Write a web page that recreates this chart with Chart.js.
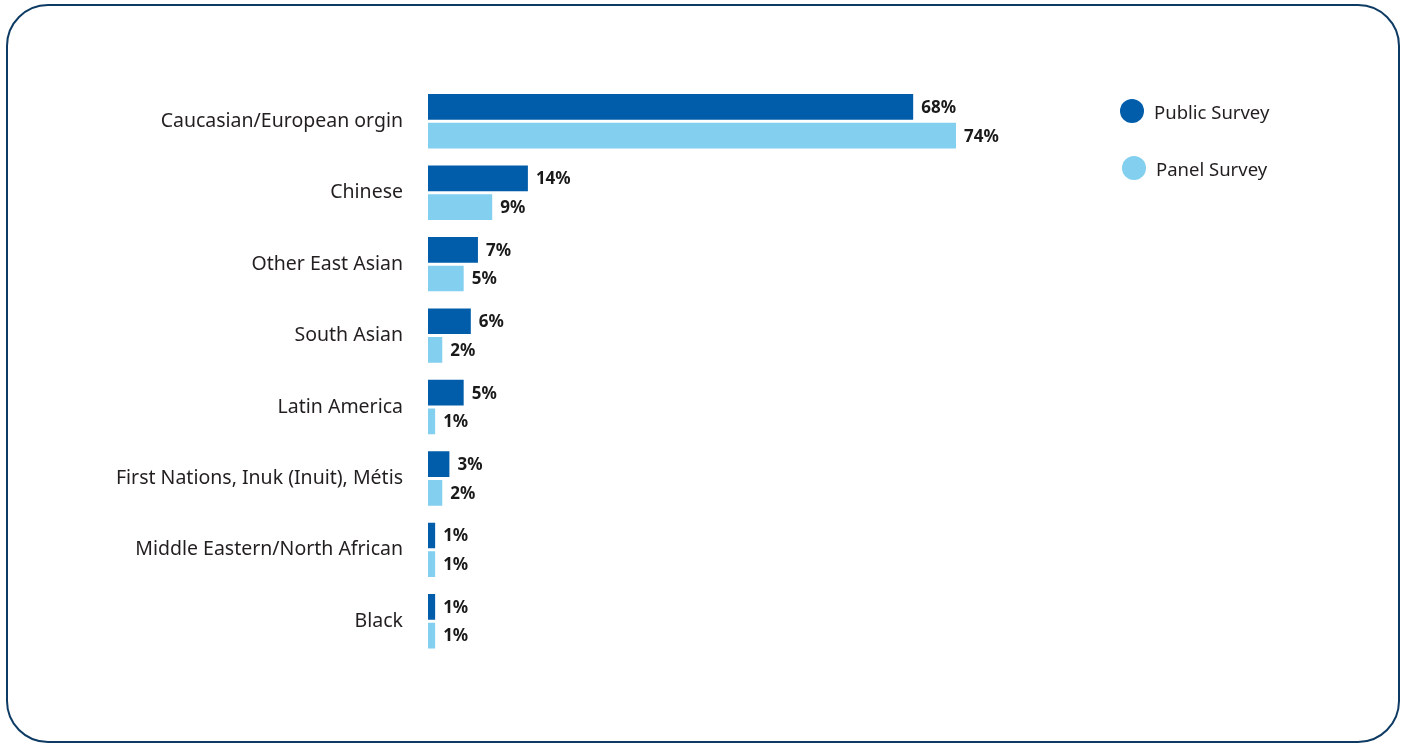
<!DOCTYPE html>
<html lang="en">
  <head>
    <meta charset="UTF-8" />
    <title>Ethnic background by survey</title>
    <style>
      * {
        margin: 0;
        padding: 0;
        box-sizing: border-box;
        font-family: "Noto Sans", sans-serif;
      }
      body {
        width: 1402px;
        height: 744px;
        background: #fff;
        position: relative;
        overflow: hidden;
      }
      .frame {
        position: absolute;
        left: 6px;
        top: 4px;
        width: 1394px;
        height: 739px;
        border: 2.5px solid #0e3b63;
        border-radius: 42px;
      }
      .chartBox {
        position: absolute;
        left: 0;
        top: 0;
        width: 1402px;
        height: 744px;
      }
      .legend {
        position: absolute;
        left: 1120px;
        top: 97px;
      }
      .legend div {
        display: flex;
        align-items: center;
        height: 28px;
        margin-bottom: 29px;
        font-size: 18.5px;
        color: #231f20;
      }
      .legend div:nth-child(2) {
        padding-left: 2px;
      }
      .legend span {
        display: inline-block;
        width: 24px;
        height: 24px;
        border-radius: 50%;
        margin-right: 10px;
      }
    </style>
  </head>
  <body>
    <div class="frame"></div>
    <div class="chartBox">
      <canvas id="myChart" width="1402" height="744"></canvas>
    </div>
    <div class="legend" id="legend"></div>

    <script src="https://cdn.jsdelivr.net/npm/chart.js"></script>
    <script>
      const categories = [
        "Caucasian/European orgin",
        "Chinese",
        "Other East Asian",
        "South Asian",
        "Latin America",
        "First Nations, Inuk (Inuit), Métis",
        "Middle Eastern/North African",
        "Black",
      ];
      const publicSurvey = [68, 14, 7, 6, 5, 3, 1, 1];
      const panelSurvey = [74, 9, 5, 2, 1, 2, 1, 1];
      const seriesNames = ["Public Survey", "Panel Survey"];
      const seriesColors = ["#015daa", "#82cfef"];

      const valueLabels = {
        id: "valueLabels",
        afterDatasetsDraw(chart) {
          const { ctx } = chart;
          ctx.save();
          ctx.font = "bold 17px 'Noto Sans', sans-serif";
          ctx.fillStyle = "#1a1a1a";
          ctx.textAlign = "left";
          ctx.textBaseline = "middle";
          chart.data.datasets.forEach((ds, i) => {
            chart.getDatasetMeta(i).data.forEach((bar, j) => {
              ctx.fillText(ds.data[j] + "%", bar.x + 8, bar.y + 1);
            });
          });
          ctx.restore();
        },
      };

      const ctx = document.getElementById("myChart");

      const myChart = new Chart(ctx, {
        type: "bar",
        data: {
          labels: categories,
          datasets: [
            {
              label: seriesNames[0],
              data: publicSurvey,
              backgroundColor: seriesColors[0],
            },
            {
              label: seriesNames[1],
              data: panelSurvey,
              backgroundColor: seriesColors[1],
            },
          ],
        },
        options: {
          indexAxis: "y",
          responsive: false,
          animation: false,
          categoryPercentage: 0.8036,
          barPercentage: 0.8955,
          layout: {
            padding: { top: 85.6, bottom: 87, left: 0, right: 260.5 },
          },
          plugins: {
            legend: { display: false },
            tooltip: { enabled: false },
          },
          scales: {
            x: {
              display: false,
              min: 0,
              max: 100,
            },
            y: {
              afterFit: (scale) => {
                scale.width = 428;
              },
              border: { display: false },
              grid: { display: false, drawTicks: false },
              ticks: {
                padding: 25,
                color: "#231f20",
                font: { size: 19.5, family: "'Noto Sans', sans-serif" },
              },
            },
          },
        },
        plugins: [valueLabels],
      });

      const legend = document.getElementById("legend");
      seriesNames.forEach((name, i) => {
        const item = document.createElement("div");
        item.innerHTML =
          '<span style="background:' + seriesColors[i] + '"></span>' + name;
        legend.appendChild(item);
      });
    </script>
  </body>
</html>
